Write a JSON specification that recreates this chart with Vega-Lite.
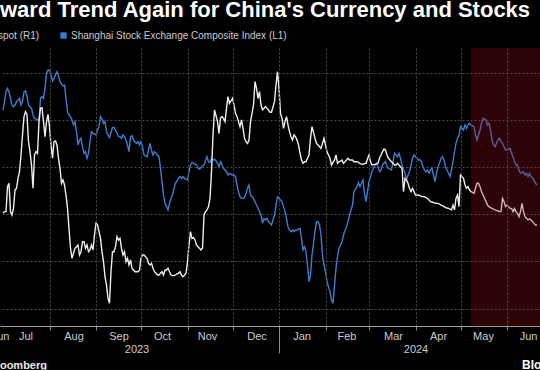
{
"$schema": "https://vega.github.io/schema/vega-lite/v6.json",
"width": 540, "height": 278,
"autosize": {"type": "none"},
"padding": {"left": 0, "right": 0, "top": 48, "bottom": 44},
"background": "#000000",
"config": {"view": {"stroke": null}, "font": "Liberation Sans"},
"title": {"text": "ward Trend Again for China's Currency and Stocks", "anchor": "start", "frame": "group", "baseline": "alphabetic", "offset": 12, "dy": 20, "font": "Liberation Sans", "fontSize": 22, "fontWeight": "bold", "color": "#ffffff"},
"datasets": {
"series": [
{"date":"2023-07-01","sse":3188,"cny":7.2491},
{"date":"2023-07-02","sse":3208,"cny":7.2473},
{"date":"2023-07-03","sse":3232,"cny":7.2473},
{"date":"2023-07-04","sse":3240,"cny":7.2208},
{"date":"2023-07-05","sse":3232,"cny":7.2173},
{"date":"2023-07-06","sse":3216,"cny":7.2473},
{"date":"2023-07-07","sse":3200,"cny":7.2508},
{"date":"2023-07-08","sse":3196,"cny":7.2438},
{"date":"2023-07-09","sse":3200,"cny":7.2244},
{"date":"2023-07-10","sse":3208,"cny":7.2226},
{"date":"2023-07-11","sse":3212,"cny":7.2120},
{"date":"2023-07-12","sse":3216,"cny":7.2050},
{"date":"2023-07-13","sse":3200,"cny":7.1873},
{"date":"2023-07-14","sse":3208,"cny":7.1661},
{"date":"2023-07-15","sse":3232,"cny":7.1467},
{"date":"2023-07-16","sse":3234,"cny":7.1414},
{"date":"2023-07-17","sse":3220,"cny":7.1449},
{"date":"2023-07-18","sse":3200,"cny":7.1732},
{"date":"2023-07-19","sse":3196,"cny":7.1838},
{"date":"2023-07-20","sse":3192,"cny":7.1979},
{"date":"2023-07-21","sse":3176,"cny":7.2226},
{"date":"2023-07-22","sse":3168,"cny":7.1873},
{"date":"2023-07-23","sse":3166,"cny":7.1838},
{"date":"2023-07-24","sse":3164,"cny":7.1855},
{"date":"2023-07-25","sse":3164,"cny":7.1520},
{"date":"2023-07-26","sse":3216,"cny":7.1379},
{"date":"2023-07-27","sse":3220,"cny":7.1372},
{"date":"2023-07-28","sse":3216,"cny":7.1520},
{"date":"2023-07-29","sse":3240,"cny":7.1679},
{"date":"2023-07-30","sse":3276,"cny":7.1520},
{"date":"2023-07-31","sse":3284,"cny":7.1442},
{"date":"2023-08-01","sse":3282,"cny":7.1573},
{"date":"2023-08-02","sse":3272,"cny":7.1767},
{"date":"2023-08-03","sse":3258,"cny":7.1908},
{"date":"2023-08-04","sse":3264,"cny":7.1732},
{"date":"2023-08-05","sse":3272,"cny":7.1725},
{"date":"2023-08-06","sse":3280,"cny":7.1767},
{"date":"2023-08-07","sse":3270,"cny":7.1908},
{"date":"2023-08-08","sse":3256,"cny":7.2014},
{"date":"2023-08-09","sse":3250,"cny":7.2173},
{"date":"2023-08-10","sse":3246,"cny":7.2138},
{"date":"2023-08-11","sse":3248,"cny":7.2191},
{"date":"2023-08-12","sse":3216,"cny":7.2297},
{"date":"2023-08-13","sse":3184,"cny":7.2438},
{"date":"2023-08-14","sse":3176,"cny":7.2650},
{"date":"2023-08-15","sse":3172,"cny":7.2861},
{"date":"2023-08-16","sse":3164,"cny":7.2967},
{"date":"2023-08-17","sse":3152,"cny":7.2914},
{"date":"2023-08-18","sse":3160,"cny":7.2861},
{"date":"2023-08-19","sse":3136,"cny":7.2844},
{"date":"2023-08-20","sse":3104,"cny":7.2826},
{"date":"2023-08-21","sse":3116,"cny":7.2932},
{"date":"2023-08-22","sse":3120,"cny":7.2897},
{"date":"2023-08-23","sse":3100,"cny":7.2791},
{"date":"2023-08-24","sse":3084,"cny":7.2791},
{"date":"2023-08-25","sse":3088,"cny":7.2861},
{"date":"2023-08-26","sse":3072,"cny":7.2826},
{"date":"2023-08-27","sse":3084,"cny":7.2897},
{"date":"2023-08-28","sse":3112,"cny":7.2879},
{"date":"2023-08-29","sse":3136,"cny":7.2826},
{"date":"2023-08-30","sse":3132,"cny":7.2879},
{"date":"2023-08-31","sse":3130,"cny":7.2720},
{"date":"2023-09-01","sse":3128,"cny":7.2597},
{"date":"2023-09-02","sse":3140,"cny":7.2614},
{"date":"2023-09-03","sse":3148,"cny":7.2685},
{"date":"2023-09-04","sse":3172,"cny":7.2756},
{"date":"2023-09-05","sse":3166,"cny":7.2897},
{"date":"2023-09-06","sse":3156,"cny":7.3003},
{"date":"2023-09-07","sse":3160,"cny":7.3161},
{"date":"2023-09-08","sse":3136,"cny":7.3250},
{"date":"2023-09-09","sse":3128,"cny":7.3391},
{"date":"2023-09-10","sse":3122,"cny":7.3444},
{"date":"2023-09-11","sse":3134,"cny":7.3109},
{"date":"2023-09-12","sse":3146,"cny":7.2897},
{"date":"2023-09-13","sse":3146,"cny":7.2897},
{"date":"2023-09-14","sse":3140,"cny":7.2844},
{"date":"2023-09-15","sse":3132,"cny":7.2738},
{"date":"2023-09-16","sse":3124,"cny":7.2773},
{"date":"2023-09-17","sse":3124,"cny":7.2756},
{"date":"2023-09-18","sse":3120,"cny":7.2861},
{"date":"2023-09-19","sse":3128,"cny":7.2932},
{"date":"2023-09-20","sse":3124,"cny":7.2897},
{"date":"2023-09-21","sse":3116,"cny":7.3003},
{"date":"2023-09-22","sse":3104,"cny":7.2967},
{"date":"2023-09-23","sse":3088,"cny":7.3038},
{"date":"2023-09-24","sse":3124,"cny":7.2985},
{"date":"2023-09-25","sse":3126,"cny":7.3073},
{"date":"2023-09-26","sse":3116,"cny":7.3091},
{"date":"2023-09-27","sse":3112,"cny":7.3109},
{"date":"2023-09-28","sse":3108,"cny":7.3109},
{"date":"2023-09-29","sse":3112,"cny":7.3109},
{"date":"2023-09-30","sse":3104,"cny":7.3091},
{"date":"2023-10-01","sse":3112,"cny":7.2967},
{"date":"2023-10-02","sse":3100,"cny":7.2932},
{"date":"2023-10-03","sse":3080,"cny":7.2932},
{"date":"2023-10-04","sse":3078,"cny":7.2950},
{"date":"2023-10-05","sse":3076,"cny":7.2967},
{"date":"2023-10-06","sse":3092,"cny":7.3020},
{"date":"2023-10-07","sse":3108,"cny":7.3038},
{"date":"2023-10-08","sse":3092,"cny":7.3020},
{"date":"2023-10-09","sse":3080,"cny":7.3073},
{"date":"2023-10-10","sse":3088,"cny":7.3109},
{"date":"2023-10-11","sse":3084,"cny":7.3126},
{"date":"2023-10-12","sse":3080,"cny":7.3144},
{"date":"2023-10-13","sse":3076,"cny":7.3144},
{"date":"2023-10-14","sse":3048,"cny":7.3126},
{"date":"2023-10-15","sse":3016,"cny":7.3109},
{"date":"2023-10-16","sse":2984,"cny":7.3144},
{"date":"2023-10-17","sse":2964,"cny":7.3091},
{"date":"2023-10-18","sse":2956,"cny":7.3091},
{"date":"2023-10-19","sse":2948,"cny":7.3073},
{"date":"2023-10-20","sse":2964,"cny":7.3109},
{"date":"2023-10-21","sse":2976,"cny":7.3144},
{"date":"2023-10-22","sse":2984,"cny":7.3151},
{"date":"2023-10-23","sse":3000,"cny":7.3151},
{"date":"2023-10-24","sse":3012,"cny":7.3144},
{"date":"2023-10-25","sse":3018,"cny":7.3133},
{"date":"2023-10-26","sse":3024,"cny":7.3126},
{"date":"2023-10-27","sse":3028,"cny":7.3109},
{"date":"2023-10-28","sse":3024,"cny":7.3144},
{"date":"2023-10-29","sse":3028,"cny":7.3161},
{"date":"2023-10-30","sse":3024,"cny":7.3144},
{"date":"2023-10-31","sse":3022,"cny":7.3126},
{"date":"2023-11-01","sse":3020,"cny":7.3003},
{"date":"2023-11-02","sse":3040,"cny":7.2826},
{"date":"2023-11-03","sse":3056,"cny":7.2685},
{"date":"2023-11-04","sse":3062,"cny":7.2756},
{"date":"2023-11-05","sse":3060,"cny":7.2748},
{"date":"2023-11-06","sse":3058,"cny":7.2773},
{"date":"2023-11-07","sse":3056,"cny":7.2826},
{"date":"2023-11-08","sse":3048,"cny":7.2844},
{"date":"2023-11-09","sse":3046,"cny":7.2861},
{"date":"2023-11-10","sse":3050,"cny":7.2879},
{"date":"2023-11-11","sse":3054,"cny":7.2861},
{"date":"2023-11-12","sse":3056,"cny":7.2508},
{"date":"2023-11-13","sse":3066,"cny":7.2473},
{"date":"2023-11-14","sse":3076,"cny":7.2455},
{"date":"2023-11-15","sse":3064,"cny":7.2420},
{"date":"2023-11-16","sse":3062,"cny":7.2332},
{"date":"2023-11-17","sse":3072,"cny":7.2050},
{"date":"2023-11-18","sse":3068,"cny":7.1661},
{"date":"2023-11-19","sse":3070,"cny":7.1396},
{"date":"2023-11-20","sse":3066,"cny":7.1456},
{"date":"2023-11-21","sse":3060,"cny":7.1520},
{"date":"2023-11-22","sse":3052,"cny":7.1644},
{"date":"2023-11-23","sse":3064,"cny":7.1485},
{"date":"2023-11-24","sse":3056,"cny":7.1467},
{"date":"2023-11-25","sse":3048,"cny":7.1485},
{"date":"2023-11-26","sse":3044,"cny":7.1520},
{"date":"2023-11-27","sse":3040,"cny":7.1379},
{"date":"2023-11-28","sse":3032,"cny":7.1255},
{"date":"2023-11-29","sse":3036,"cny":7.1326},
{"date":"2023-11-30","sse":3034,"cny":7.1301},
{"date":"2023-12-01","sse":3032,"cny":7.1273},
{"date":"2023-12-02","sse":3032,"cny":7.1344},
{"date":"2023-12-03","sse":3028,"cny":7.1432},
{"date":"2023-12-04","sse":3008,"cny":7.1467},
{"date":"2023-12-05","sse":2992,"cny":7.1520},
{"date":"2023-12-06","sse":2980,"cny":7.1573},
{"date":"2023-12-07","sse":2976,"cny":7.1502},
{"date":"2023-12-08","sse":2976,"cny":7.1591},
{"date":"2023-12-09","sse":2978,"cny":7.1697},
{"date":"2023-12-10","sse":2988,"cny":7.1732},
{"date":"2023-12-11","sse":3000,"cny":7.1750},
{"date":"2023-12-12","sse":3008,"cny":7.1714},
{"date":"2023-12-13","sse":2984,"cny":7.1520},
{"date":"2023-12-14","sse":2980,"cny":7.1432},
{"date":"2023-12-15","sse":2976,"cny":7.1344},
{"date":"2023-12-16","sse":2968,"cny":7.1096},
{"date":"2023-12-17","sse":2960,"cny":7.1167},
{"date":"2023-12-18","sse":2952,"cny":7.1273},
{"date":"2023-12-19","sse":2944,"cny":7.1202},
{"date":"2023-12-20","sse":2936,"cny":7.1344},
{"date":"2023-12-21","sse":2916,"cny":7.1396},
{"date":"2023-12-22","sse":2928,"cny":7.1379},
{"date":"2023-12-23","sse":2924,"cny":7.1361},
{"date":"2023-12-24","sse":2928,"cny":7.1379},
{"date":"2023-12-25","sse":2920,"cny":7.1396},
{"date":"2023-12-26","sse":2916,"cny":7.1421},
{"date":"2023-12-27","sse":2912,"cny":7.1421},
{"date":"2023-12-28","sse":2924,"cny":7.1365},
{"date":"2023-12-29","sse":2936,"cny":7.1308},
{"date":"2023-12-30","sse":2960,"cny":7.1132},
{"date":"2023-12-31","sse":2980,"cny":7.0991},
{"date":"2024-01-01","sse":2976,"cny":7.1167},
{"date":"2024-01-02","sse":2972,"cny":7.1432},
{"date":"2024-01-03","sse":2968,"cny":7.1485},
{"date":"2024-01-04","sse":2956,"cny":7.1591},
{"date":"2024-01-05","sse":2944,"cny":7.1520},
{"date":"2024-01-06","sse":2928,"cny":7.1467},
{"date":"2024-01-07","sse":2908,"cny":7.1555},
{"date":"2024-01-08","sse":2900,"cny":7.1626},
{"date":"2024-01-09","sse":2896,"cny":7.1679},
{"date":"2024-01-10","sse":2900,"cny":7.1714},
{"date":"2024-01-11","sse":2896,"cny":7.1661},
{"date":"2024-01-12","sse":2900,"cny":7.1679},
{"date":"2024-01-13","sse":2900,"cny":7.1714},
{"date":"2024-01-14","sse":2902,"cny":7.1767},
{"date":"2024-01-15","sse":2904,"cny":7.1855},
{"date":"2024-01-16","sse":2880,"cny":7.1926},
{"date":"2024-01-17","sse":2852,"cny":7.1961},
{"date":"2024-01-18","sse":2860,"cny":7.1944},
{"date":"2024-01-19","sse":2848,"cny":7.1944},
{"date":"2024-01-20","sse":2816,"cny":7.1908},
{"date":"2024-01-21","sse":2776,"cny":7.1873},
{"date":"2024-01-22","sse":2792,"cny":7.1697},
{"date":"2024-01-23","sse":2840,"cny":7.1573},
{"date":"2024-01-24","sse":2868,"cny":7.1633},
{"date":"2024-01-25","sse":2896,"cny":7.1697},
{"date":"2024-01-26","sse":2920,"cny":7.1750},
{"date":"2024-01-27","sse":2920,"cny":7.1767},
{"date":"2024-01-28","sse":2912,"cny":7.1785},
{"date":"2024-01-29","sse":2888,"cny":7.1802},
{"date":"2024-01-30","sse":2840,"cny":7.1750},
{"date":"2024-01-31","sse":2816,"cny":7.1697},
{"date":"2024-02-01","sse":2800,"cny":7.1767},
{"date":"2024-02-02","sse":2776,"cny":7.1838},
{"date":"2024-02-03","sse":2764,"cny":7.1873},
{"date":"2024-02-04","sse":2752,"cny":7.1908},
{"date":"2024-02-05","sse":2732,"cny":7.1979},
{"date":"2024-02-06","sse":2724,"cny":7.1951},
{"date":"2024-02-07","sse":2768,"cny":7.1926},
{"date":"2024-02-08","sse":2808,"cny":7.1873},
{"date":"2024-02-09","sse":2836,"cny":7.1961},
{"date":"2024-02-10","sse":2856,"cny":7.1944},
{"date":"2024-02-11","sse":2864,"cny":7.1937},
{"date":"2024-02-12","sse":2872,"cny":7.1926},
{"date":"2024-02-13","sse":2888,"cny":7.1961},
{"date":"2024-02-14","sse":2898,"cny":7.1944},
{"date":"2024-02-15","sse":2908,"cny":7.1926},
{"date":"2024-02-16","sse":2920,"cny":7.1908},
{"date":"2024-02-17","sse":2936,"cny":7.1926},
{"date":"2024-02-18","sse":2948,"cny":7.1926},
{"date":"2024-02-19","sse":2960,"cny":7.1926},
{"date":"2024-02-20","sse":2992,"cny":7.1944},
{"date":"2024-02-21","sse":2998,"cny":7.1944},
{"date":"2024-02-22","sse":3004,"cny":7.1944},
{"date":"2024-02-23","sse":3014,"cny":7.1951},
{"date":"2024-02-24","sse":3004,"cny":7.1965},
{"date":"2024-02-25","sse":3012,"cny":7.1968},
{"date":"2024-02-26","sse":3020,"cny":7.1972},
{"date":"2024-02-27","sse":2988,"cny":7.1965},
{"date":"2024-02-28","sse":2968,"cny":7.1961},
{"date":"2024-02-29","sse":2992,"cny":7.1915},
{"date":"2024-03-01","sse":3016,"cny":7.1873},
{"date":"2024-03-02","sse":3028,"cny":7.1944},
{"date":"2024-03-03","sse":3040,"cny":7.1979},
{"date":"2024-03-04","sse":3048,"cny":7.1975},
{"date":"2024-03-05","sse":3056,"cny":7.1972},
{"date":"2024-03-06","sse":3060,"cny":7.1968},
{"date":"2024-03-07","sse":3052,"cny":7.1961},
{"date":"2024-03-08","sse":3040,"cny":7.1908},
{"date":"2024-03-09","sse":3044,"cny":7.1873},
{"date":"2024-03-10","sse":3056,"cny":7.1838},
{"date":"2024-03-11","sse":3060,"cny":7.1810},
{"date":"2024-03-12","sse":3064,"cny":7.1820},
{"date":"2024-03-13","sse":3052,"cny":7.1873},
{"date":"2024-03-14","sse":3048,"cny":7.1908},
{"date":"2024-03-15","sse":3046,"cny":7.1926},
{"date":"2024-03-16","sse":3044,"cny":7.1944},
{"date":"2024-03-17","sse":3064,"cny":7.1961},
{"date":"2024-03-18","sse":3084,"cny":7.1979},
{"date":"2024-03-19","sse":3080,"cny":7.1979},
{"date":"2024-03-20","sse":3076,"cny":7.1961},
{"date":"2024-03-21","sse":3084,"cny":7.1979},
{"date":"2024-03-22","sse":3072,"cny":7.1997},
{"date":"2024-03-23","sse":3056,"cny":7.2014},
{"date":"2024-03-24","sse":3044,"cny":7.2261},
{"date":"2024-03-25","sse":3036,"cny":7.2120},
{"date":"2024-03-26","sse":3020,"cny":7.2138},
{"date":"2024-03-27","sse":3032,"cny":7.2173},
{"date":"2024-03-28","sse":3040,"cny":7.2226},
{"date":"2024-03-29","sse":3056,"cny":7.2261},
{"date":"2024-03-30","sse":3072,"cny":7.2226},
{"date":"2024-03-31","sse":3080,"cny":7.2261},
{"date":"2024-04-01","sse":3076,"cny":7.2297},
{"date":"2024-04-02","sse":3072,"cny":7.2297},
{"date":"2024-04-03","sse":3068,"cny":7.2297},
{"date":"2024-04-04","sse":3068,"cny":7.2304},
{"date":"2024-04-05","sse":3064,"cny":7.2314},
{"date":"2024-04-06","sse":3052,"cny":7.2314},
{"date":"2024-04-07","sse":3044,"cny":7.2314},
{"date":"2024-04-08","sse":3040,"cny":7.2325},
{"date":"2024-04-09","sse":3044,"cny":7.2332},
{"date":"2024-04-10","sse":3036,"cny":7.2350},
{"date":"2024-04-11","sse":3044,"cny":7.2367},
{"date":"2024-04-12","sse":3048,"cny":7.2371},
{"date":"2024-04-13","sse":3032,"cny":7.2378},
{"date":"2024-04-14","sse":3016,"cny":7.2381},
{"date":"2024-04-15","sse":3036,"cny":7.2385},
{"date":"2024-04-16","sse":3052,"cny":7.2385},
{"date":"2024-04-17","sse":3060,"cny":7.2392},
{"date":"2024-04-18","sse":3072,"cny":7.2403},
{"date":"2024-04-19","sse":3076,"cny":7.2410},
{"date":"2024-04-20","sse":3068,"cny":7.2420},
{"date":"2024-04-21","sse":3052,"cny":7.2431},
{"date":"2024-04-22","sse":3044,"cny":7.2434},
{"date":"2024-04-23","sse":3036,"cny":7.2438},
{"date":"2024-04-24","sse":3028,"cny":7.2445},
{"date":"2024-04-25","sse":3044,"cny":7.2455},
{"date":"2024-04-26","sse":3064,"cny":7.2403},
{"date":"2024-04-27","sse":3088,"cny":7.2455},
{"date":"2024-04-28","sse":3108,"cny":7.2332},
{"date":"2024-04-29","sse":3120,"cny":7.2297},
{"date":"2024-04-30","sse":3128,"cny":7.2420},
{"date":"2024-05-01","sse":3148,"cny":7.2085},
{"date":"2024-05-02","sse":3144,"cny":7.2102},
{"date":"2024-05-03","sse":3140,"cny":7.2120},
{"date":"2024-05-04","sse":3152,"cny":7.2191},
{"date":"2024-05-05","sse":3144,"cny":7.2226},
{"date":"2024-05-06","sse":3152,"cny":7.2208},
{"date":"2024-05-07","sse":3156,"cny":7.2244},
{"date":"2024-05-08","sse":3152,"cny":7.2261},
{"date":"2024-05-09","sse":3150,"cny":7.2268},
{"date":"2024-05-10","sse":3148,"cny":7.2279},
{"date":"2024-05-11","sse":3128,"cny":7.2226},
{"date":"2024-05-12","sse":3116,"cny":7.2173},
{"date":"2024-05-13","sse":3128,"cny":7.2173},
{"date":"2024-05-14","sse":3140,"cny":7.2208},
{"date":"2024-05-15","sse":3156,"cny":7.2261},
{"date":"2024-05-16","sse":3168,"cny":7.2297},
{"date":"2024-05-17","sse":3166,"cny":7.2332},
{"date":"2024-05-18","sse":3164,"cny":7.2367},
{"date":"2024-05-19","sse":3152,"cny":7.2403},
{"date":"2024-05-20","sse":3156,"cny":7.2420},
{"date":"2024-05-21","sse":3140,"cny":7.2431},
{"date":"2024-05-22","sse":3116,"cny":7.2438},
{"date":"2024-05-23","sse":3104,"cny":7.2445},
{"date":"2024-05-24","sse":3100,"cny":7.2455},
{"date":"2024-05-25","sse":3108,"cny":7.2459},
{"date":"2024-05-26","sse":3116,"cny":7.2466},
{"date":"2024-05-27","sse":3120,"cny":7.2473},
{"date":"2024-05-28","sse":3112,"cny":7.2473},
{"date":"2024-05-29","sse":3108,"cny":7.2332},
{"date":"2024-05-30","sse":3100,"cny":7.2367},
{"date":"2024-05-31","sse":3092,"cny":7.2420},
{"date":"2024-06-01","sse":3092,"cny":7.2403},
{"date":"2024-06-02","sse":3094,"cny":7.2420},
{"date":"2024-06-03","sse":3096,"cny":7.2438},
{"date":"2024-06-04","sse":3084,"cny":7.2438},
{"date":"2024-06-05","sse":3076,"cny":7.2473},
{"date":"2024-06-06","sse":3064,"cny":7.2438},
{"date":"2024-06-07","sse":3056,"cny":7.2473},
{"date":"2024-06-08","sse":3056,"cny":7.2491},
{"date":"2024-06-09","sse":3044,"cny":7.2526},
{"date":"2024-06-10","sse":3036,"cny":7.2473},
{"date":"2024-06-11","sse":3038,"cny":7.2385},
{"date":"2024-06-12","sse":3040,"cny":7.2473},
{"date":"2024-06-13","sse":3032,"cny":7.2526},
{"date":"2024-06-14","sse":3036,"cny":7.2544},
{"date":"2024-06-15","sse":3028,"cny":7.2561},
{"date":"2024-06-16","sse":3036,"cny":7.2551},
{"date":"2024-06-17","sse":3028,"cny":7.2561},
{"date":"2024-06-18","sse":3024,"cny":7.2579},
{"date":"2024-06-19","sse":3020,"cny":7.2597},
{"date":"2024-06-20","sse":3012,"cny":7.2614},
{"date":"2024-06-21","sse":3008,"cny":7.2614}
],
"shade": [{"start": "2024-05-08", "end": "2024-07-01"}]
},
"layer": [
{
"data": {"name": "series"},
"mark": {"type": "line", "strokeWidth": 1.4, "clip": true},
"encoding": {
"x": {"field": "date", "type": "temporal",
 "scale": {"type": "utc", "nice": false, "domain": [1687996800000, 1719100800000]},
 "axis": {"orient": "bottom", "title": null, "zindex": 1,
  "values": [1690848000000, 1693526400000, 1696118400000, 1698796800000, 1701388800000, 1704067200000, 1706745600000, 1709251200000, 1711929600000, 1714521600000, 1717200000000],
  "labels": false, "grid": true, "gridColor": "#4d4d4d", "gridDash": [2, 2], "gridWidth": 1,
  "ticks": true, "tickColor": "#8a8a8a", "tickWidth": 1,
  "tickSize": {"condition": {"test": "utcmonth(datum.value) === 0", "value": 27}, "value": 4},
  "domain": true, "domainColor": "#a0a0a0", "domainWidth": 1}
},
"y": {"field": "sse", "type": "quantitative", "scale": {"domain": [2669.6, 3336.8], "nice": false, "zero": false}, "axis": null},
"color": {"datum": "Shanghai Stock Exchange Composite Index (L1)", "type": "nominal",
 "scale": {"domain": ["spot (R1)", "Shanghai Stock Exchange Composite Index (L1)"], "range": ["#eeeeee", "#3c7dd2"]},
 "legend": {"orient": "none", "legendX": -14.5, "legendY": -17.5, "direction": "horizontal", "title": null,
  "symbolType": "square", "symbolSize": 40, "symbolStrokeWidth": 0,
  "labelFont": "Liberation Sans", "labelFontSize": 10, "labelColor": "#cccccc", "labelOffset": 2.5, "labelLimit": 400,
  "columnPadding": 19, "padding": 0,
  "encode": {"symbols": {"update": {"fill": {"scale": "color", "field": "value"}, "stroke": {"value": "transparent"}, "opacity": {"value": 1}}}}}
}
}
},
{
"data": {"name": "series"},
"mark": {"type": "line", "strokeWidth": 1.4, "clip": true},
"encoding": {
"x": {"field": "date", "type": "temporal",
 "scale": {"type": "utc", "nice": false, "domain": [1687996800000, 1719100800000]},
 "axis": {"orient": "bottom", "grid": false, "ticks": false, "domain": false,
  "values": [1687996800000, 1689465600000, 1692230400000, 1694822400000, 1697328000000, 1699920000000, 1702771200000, 1705363200000, 1707955200000, 1710633600000, 1713225600000, 1715817600000, 1718409600000],
  "labelExpr": "utcFormat(datum.value, '%b')",
  "labelFont": "Liberation Sans", "labelFontSize": 11, "labelColor": "#cccccc",
  "labelPadding": 4, "labelFlush": false, "labelOverlap": false, "labelBound": false,
  "title": "Source: Bloomberg", "titleX": 46.5, "titleY": 42, "titleAlign": "right", "titleBaseline": "alphabetic", "titleAngle": 0,
  "titleFont": "Liberation Sans", "titleFontSize": 11, "titleFontWeight": "bold", "titleColor": "#e8e8e8"}
},
"y": {"field": "cny", "type": "quantitative", "scale": {"domain": [7.074, 7.3684], "reverse": true, "nice": false, "zero": false},
 "axis": {"orient": "right", "values": [7.1, 7.15, 7.2, 7.25, 7.3, 7.35], "labels": false, "ticks": false, "domain": false, "title": null,
  "grid": true, "gridColor": "#4d4d4d", "gridDash": [2, 2], "gridWidth": 1}},
"color": {"datum": "spot (R1)", "type": "nominal"}
}
},
{
"data": {"name": "shade"},
"mark": {"type": "rect", "fill": "#a50a1e", "opacity": 0.28, "clip": true},
"encoding": {
"x": {"field": "start", "type": "temporal",
 "scale": {"type": "utc", "nice": false, "domain": [1687996800000, 1719100800000]},
 "axis": {"orient": "bottom", "grid": false, "ticks": false, "domain": false,
  "values": [1695859200000, 1711929600000],
  "labelExpr": "utcFormat(datum.value, '%Y')",
  "labelFont": "Liberation Sans", "labelFontSize": 11, "labelColor": "#cccccc",
  "labelPadding": 17, "labelFlush": false, "labelOverlap": false, "labelBound": false,
  "title": "Bloomberg", "titleX": 521.5, "titleY": 42, "titleAlign": "left", "titleBaseline": "alphabetic", "titleAngle": 0,
  "titleFont": "Liberation Sans", "titleFontSize": 12, "titleFontWeight": "bold", "titleColor": "#ffffff"}
},
"x2": {"field": "end"}
}
}
],
"resolve": {"scale": {"y": "independent"}, "axis": {"x": "independent", "y": "independent"}}
}
